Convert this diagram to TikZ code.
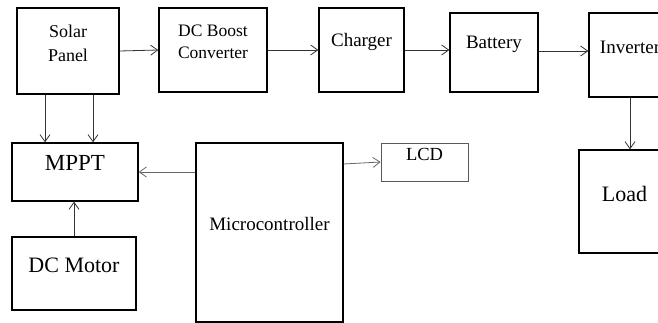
\documentclass[tikz,border=0pt]{standalone}
\usepackage{fontspec}
\setmainfont{Liberation Serif}
\usetikzlibrary{arrows.meta, positioning}

\tikzset{
  blk/.style={draw, line width=1.4pt, inner sep=0pt},
  txt/.style={align=center, yshift=8pt, font=\fontsize{19}{23}\selectfont},
  arr/.style={draw=black!80, line width=0.8pt, -{Straight Barb[length=7pt,width=10pt]}}
}

\begin{document}
\begin{tikzpicture}[x=1pt,y=-1pt]
\useasboundingbox (0,0) rectangle (658,323);
\clip (0,0) rectangle (658,323);

% top row
\node[blk, minimum width=102, minimum height=86, label={[txt, font=\fontsize{18}{24}\selectfont]center:Solar\\Panel}] (solar) at (68,51) {};
\node[blk, minimum width=108, minimum height=84, label={[txt, font=\fontsize{17.5}{22}\selectfont]center:DC Boost\\Converter}] (boost) at (213,50) {};
\node[blk, minimum width=85, minimum height=84, label={[txt]center:Charger}] (charger) at (361.5,50) {};
\node[blk, minimum width=88, minimum height=79, label={[txt]center:Battery}] (battery) at (494,52.5) {};
\node[blk, minimum width=82, minimum height=84, label={[txt]center:Inverter}] (inv) at (630,55) {};

% lower part
\node[blk, minimum width=126, minimum height=58, label={[txt, yshift=1pt, font=\fontsize{23}{27}\selectfont]center:MPPT}] (mppt) at (75,172) {};
\node[blk, minimum width=124, minimum height=73, label={[txt, font=\fontsize{22}{26}\selectfont]center:DC Motor}] (motor) at (74,273.5) {};
\node[blk, minimum width=147, minimum height=179, label={[txt]center:Microcontroller}] (micro) at (269.5,232.5) {};
\node[draw=black!65, line width=0.8pt, minimum width=87, minimum height=38, inner sep=0pt, label={[txt, font=\fontsize{18.5}{22}\selectfont]center:LCD}] (lcd) at (424.5,162) {};
\node[blk, minimum width=91, minimum height=103, label={[txt, font=\fontsize{22}{26}\selectfont]center:Load}] (load) at (624.5,201.5) {};

% connectors
\draw[arr] (solar.east) -- (boost.west);
\draw[arr] (boost.east) -- (charger.west);
\draw[arr] (charger.east) -- (charger.east -| battery.west);
\draw[arr] ([yshift=1.5pt]battery.east) -- ([yshift=1.5pt]battery.east -| inv.west);
\draw[arr] (inv.south) -- (inv.south |- load.north);
\draw[arr] ([xshift=-23pt]solar.south) -- ([xshift=-23pt]solar.south |- mppt.north);
\draw[arr] ([xshift=25pt]solar.south) -- ([xshift=25pt]solar.south |- mppt.north);
\draw[arr] (motor.north) -- (motor.north |- mppt.south);
\draw[arr, draw=black!60] (micro.west |- mppt.east) -- (mppt.east);
\draw[arr, draw=black!60] ([yshift=-2pt]micro.east |- lcd.west) -- (lcd.west);
\end{tikzpicture}
\end{document}
